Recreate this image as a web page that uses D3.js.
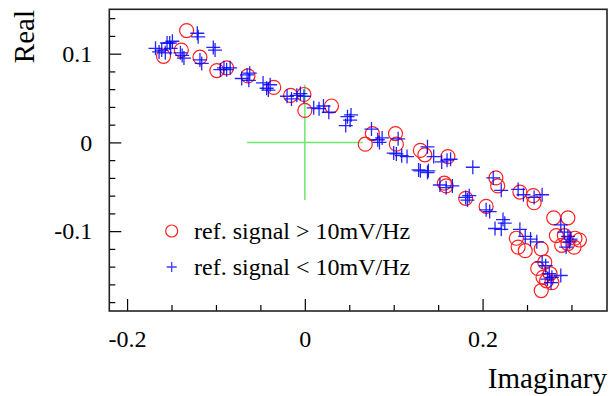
<!DOCTYPE html>
<html>
<head>
<meta charset="utf-8">
<script src="https://cdn.jsdelivr.net/npm/d3@7"></script>
<style>
    body { margin: 0; background: #fff; }
    text { font-family: "Liberation Serif", "DejaVu Serif", serif; fill: #000; }
</style>
</head>
<body>
<div id="chart_div"></div>
<script>
// ref. signal > 10mV/Hz (red circles): imaginary part, real part
var redIm = [-0.133, -0.159, -0.139, -0.118, -0.099, -0.088, -0.064, -0.035, -0.016, -0.001,
    0.000, 0.030, 0.068, 0.076, 0.102, 0.103, 0.130, 0.135, 0.161, 0.157,
    0.159, 0.181, 0.204, 0.215, 0.217, 0.242, 0.257, 0.258, 0.280, 0.296,
    0.238, 0.240, 0.248, 0.266, 0.283, 0.292, 0.304, 0.289, 0.296, 0.262,
    0.270, 0.268, 0.272, 0.266, 0.276, 0.309, 0.303, 0.278];
var redRe = [0.126, 0.097, 0.104, 0.096, 0.081, 0.084, 0.075, 0.062, 0.053, 0.054,
    0.036, 0.041, -0.002, 0.010, 0.010, -0.002, -0.009, -0.014, -0.016, -0.046,
    -0.049, -0.063, -0.072, -0.040, -0.049, -0.056, -0.060, -0.068, -0.085, -0.085,
    -0.108, -0.118, -0.122, -0.120, -0.105, -0.105, -0.108, -0.116, -0.114, -0.142,
    -0.135, -0.152, -0.156, -0.167, -0.148, -0.110, -0.118, -0.158];

// ref. signal < 10mV/Hz (blue crosses)
var blueIm = [-0.168, -0.164, -0.161, -0.157, -0.152, -0.151, -0.138, -0.136, -0.140, -0.121,
    -0.120, -0.118, -0.116, -0.103, -0.101, -0.095, -0.091, -0.088, -0.084, -0.071,
    -0.065, -0.062, -0.063, -0.047, -0.043, -0.039, -0.041, -0.020, -0.015, -0.009,
    -0.005, -0.001, 0.010, 0.016, 0.021, 0.027, 0.048, 0.051, 0.046, 0.052,
    0.075, 0.082, 0.084, 0.105, 0.103, 0.109, 0.115, 0.138, 0.145, 0.164,
    0.130, 0.138, 0.139, 0.160, 0.159, 0.166, 0.181, 0.185, 0.183, 0.189,
    0.208, 0.223, 0.225, 0.214, 0.221, 0.212, 0.221, 0.240, 0.246, 0.258,
    0.267, 0.242, 0.248, 0.254, 0.261, 0.288, 0.292, 0.296, 0.298, 0.299,
    0.294, 0.267, 0.271, 0.275, 0.278, 0.288, 0.277, 0.273, 0.087, 0.100,
    0.154, 0.204, 0.128, 0.152, -0.155, -0.149];
var blueRe = [0.106, 0.102, 0.104, 0.101, 0.112, 0.106, 0.098, 0.095, 0.101, 0.123,
    0.119, 0.093, 0.089, 0.107, 0.104, 0.082, 0.084, 0.082, 0.084, 0.072,
    0.076, 0.078, 0.070, 0.067, 0.061, 0.065, 0.059, 0.052, 0.049, 0.053,
    0.055, 0.052, 0.039, 0.038, 0.041, 0.034, 0.029, 0.025, 0.019, 0.031,
    0.015, 0.003, 0.000, 0.004, -0.013, -0.015, -0.016, -0.005, -0.016, -0.019,
    -0.032, -0.034, -0.032, -0.020, -0.051, -0.049, -0.062, -0.060, -0.065, -0.028,
    -0.078, -0.087, -0.091, -0.097, -0.098, -0.040, -0.054, -0.053, -0.059, -0.062,
    -0.059, -0.098, -0.106, -0.109, -0.112, -0.093, -0.101, -0.106, -0.112, -0.109,
    -0.118, -0.135, -0.139, -0.148, -0.152, -0.150, -0.158, -0.154, 0.005, -0.012,
    -0.022, -0.076, -0.031, -0.048, 0.112, 0.114];

var xMajor = [-0.2, 0, 0.2];
var xMinor = [-0.15, -0.1, -0.05, 0.05, 0.1, 0.15, 0.25, 0.3];
var yMajor = [-0.1, 0, 0.1];
var yMinor = [-0.18, -0.16, -0.14, -0.12, -0.08, -0.06, -0.04, -0.02, 0.02, 0.04, 0.06, 0.08, 0.12, 0.14];
var tickLabels = {"-0.2": "-0.2", "0": "0", "0.2": "0.2", "-0.1": "-0.1", "0.1": "0.1"};
var crossHalf = 0.065;
var legendLabels = ["ref. signal > 10mV/Hz", "ref. signal < 10mV/Hz"];

var W = 614, H = 396;
var fr = {l: 109.3, r: 607, t: 9.3, b: 311};

var svg = d3.select("#chart_div").append("svg").attr("width", W).attr("height", H);

var x = d3.scaleLinear().domain([-0.22, 0.34]).range([fr.l, fr.r]);
var y = d3.scaleLinear().domain([-0.19, 0.15]).range([fr.b, fr.t]);

// plain hyphen like the original, not the unicode minus
var fmt = function(d){ return tickLabels[String(d)]; };

// axes (ROOT style: ticks pointing inward)
var gx = svg.append("g").attr("transform", "translate(0," + fr.b + ")");
gx.call(d3.axisBottom(x).tickValues(xMajor).tickSize(-12).tickPadding(19).tickFormat(fmt));
var gxm = svg.append("g").attr("transform", "translate(0," + fr.b + ")");
gxm.call(d3.axisBottom(x).tickValues(xMinor).tickSize(-6).tickFormat(""));

var gy = svg.append("g").attr("transform", "translate(" + fr.l + ",0)");
gy.call(d3.axisLeft(y).tickValues(yMajor).tickSize(-12).tickPadding(17).tickFormat(fmt));
var gym = svg.append("g").attr("transform", "translate(" + fr.l + ",0)");
gym.call(d3.axisLeft(y).tickValues(yMinor).tickSize(-6).tickFormat(""));

svg.selectAll(".domain").remove();
svg.selectAll(".tick line").attr("stroke", "#000").attr("stroke-width", 1.2);
svg.selectAll(".tick text").style("font-size", "24px").attr("fill", "#000");

// frame
svg.append("rect").attr("x", fr.l).attr("y", fr.t)
    .attr("width", fr.r - fr.l).attr("height", fr.b - fr.t)
    .attr("fill", "none").attr("stroke", "#222").attr("stroke-width", 1.6);

// green cross at origin
svg.append("line").attr("x1", x(-crossHalf)).attr("x2", x(crossHalf)).attr("y1", y(0)).attr("y2", y(0))
    .attr("stroke", "#6be86b").attr("stroke-width", 1.5);
svg.append("line").attr("x1", x(0)).attr("x2", x(0)).attr("y1", y(crossHalf)).attr("y2", y(-crossHalf))
    .attr("stroke", "#6be86b").attr("stroke-width", 1.5);

// red circles
svg.append("g").selectAll("circle").data(d3.range(redIm.length)).enter()
    .append("circle")
    .attr("cx", function(i){ return x(redIm[i]); })
    .attr("cy", function(i){ return y(redRe[i]); })
    .attr("r", 7)
    .attr("fill", "none").attr("stroke", "#ff2020").attr("stroke-width", 1.2);

// blue crosses
var plus = function(s){ return "M" + (-s) + ",0H" + s + "M0," + (-s) + "V" + s; };
svg.append("g").selectAll("path").data(d3.range(blueIm.length)).enter()
    .append("path")
    .attr("transform", function(i){ return "translate(" + x(blueIm[i]) + "," + y(blueRe[i]) + ")"; })
    .attr("d", plus(7))
    .attr("fill", "none").attr("stroke", "#0000ff").attr("stroke-width", 1.3).attr("stroke-opacity", 0.85);

// legend
var lg = svg.append("g");
lg.append("circle").attr("cx", 171.7).attr("cy", 231).attr("r", 6)
    .attr("fill", "none").attr("stroke", "#ff2020").attr("stroke-width", 1.2);
lg.append("path").attr("transform", "translate(171.7,267)").attr("d", plus(5))
    .attr("fill", "none").attr("stroke", "#4040ff").attr("stroke-width", 1.3);
lg.selectAll("text").data(legendLabels).enter().append("text")
    .attr("x", 194).attr("y", function(d, i){ return 239 + i * 36; })
    .style("font-size", "24px").text(function(d){ return d; });

// axis titles
svg.append("text").attr("x", fr.r).attr("y", 388).attr("text-anchor", "end")
    .style("font-size", "29px").text("Imaginary");
svg.append("text").attr("transform", "translate(34,10) rotate(-90)").attr("text-anchor", "end")
    .style("font-size", "29px").text("Real");
</script>
</body>
</html>
